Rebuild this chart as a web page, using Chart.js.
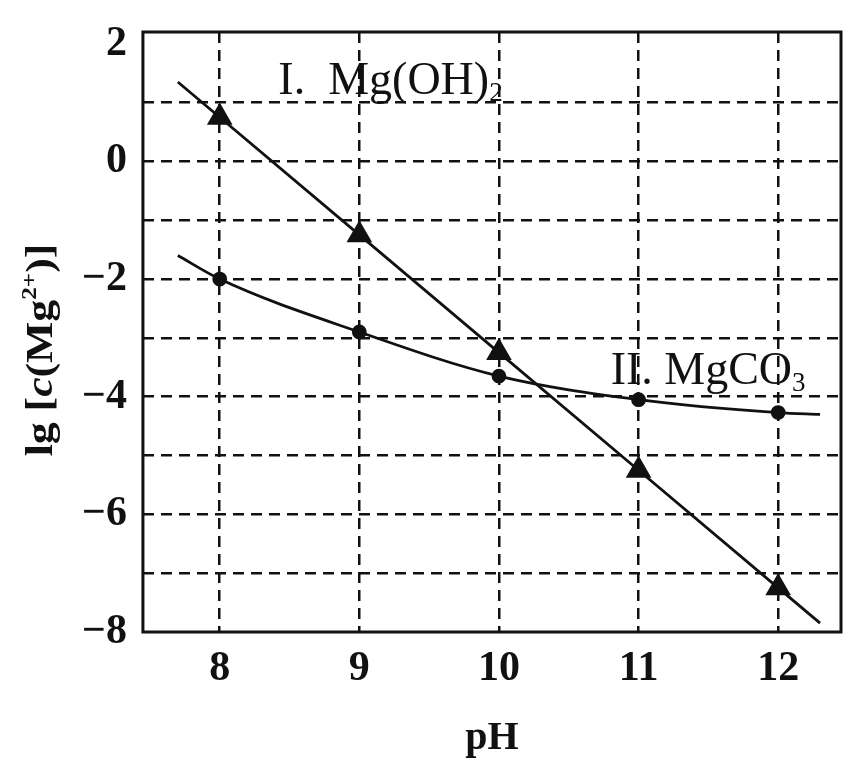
<!DOCTYPE html>
<html>
<head>
<meta charset="utf-8">
<script src="https://cdn.jsdelivr.net/npm/chart.js@4.4.0/dist/chart.umd.min.js"></script>
<style>
  html, body { margin: 0; padding: 0; background: #fff; }
  #wrap { width: 851px; height: 759px; }
</style>
</head>
<body>
<div id="wrap"><canvas id="chart"></canvas></div>
<script>
// values
const phTicks = [8, 9, 10, 11, 12];
const lgTicks = [-8, -7, -6, -5, -4, -3, -2, -1, 0, 1, 2];
const mgOH2Values = [0.75, -1.25, -3.25, -5.25, -7.25];
const mgCO3Values = [-2.0, -2.9, -3.65, -4.05, -4.27];
// where the drawn curves begin and end beyond the marked points
const mgOH2Ends = [[7.7, 1.35], [12.3, -7.85]];
const mgCO3Ends = [[7.7, -1.6], [12.3, -4.3]];

const serif = '"Liberation Serif", "Times New Roman", serif';

function curve(ends, values) {
  const pts = [{x: ends[0][0], y: ends[0][1]}];
  phTicks.forEach((ph, i) => pts.push({x: ph, y: values[i]}));
  pts.push({x: ends[1][0], y: ends[1][1]});
  return pts;
}
// no marker on the curve ends
const markerRadius = (r) => [0, r, r, r, r, r, 0];

// draws a run of text pieces with their own font and vertical offset
function drawPieces(ctx, x, y, pieces) {
  let cx = x;
  for (const p of pieces) {
    ctx.font = p.font;
    ctx.fillText(p.text, cx, y + (p.dy || 0));
    cx += ctx.measureText(p.text).width;
  }
}

const framePlugin = {
  id: 'frame',
  afterDraw(chart) {
    const {ctx, chartArea: a, scales} = chart;
    ctx.save();
    ctx.strokeStyle = '#111';
    ctx.lineWidth = 3;
    ctx.strokeRect(a.left, a.top, a.right - a.left, a.bottom - a.top);
    ctx.fillStyle = '#111';
    ctx.textBaseline = 'alphabetic';
    ctx.textAlign = 'left';
    const big = `46px ${serif}`;
    const sub = `27px ${serif}`;
    drawPieces(ctx, scales.x.getPixelForValue(8.42), scales.y.getPixelForValue(1.15), [
      {text: 'I.  Mg(OH)', font: big},
      {text: '2', font: sub, dy: 7},
    ]);
    drawPieces(ctx, scales.x.getPixelForValue(10.8), scales.y.getPixelForValue(-3.78), [
      {text: 'II. MgCO', font: big},
      {text: '3', font: sub, dy: 7},
    ]);
    // y axis title with italic c and superscript charge
    const pieces = [
      {text: 'lg [', font: `bold 38px ${serif}`},
      {text: 'c', font: `italic bold 38px ${serif}`},
      {text: '(Mg', font: `bold 38px ${serif}`},
      {text: '2+', font: `bold 22px ${serif}`, dy: -16},
      {text: ')]', font: `bold 38px ${serif}`},
    ];
    let w = 0;
    for (const p of pieces) { ctx.font = p.font; w += ctx.measureText(p.text).width; }
    ctx.translate(52, 350);
    ctx.rotate(-Math.PI / 2);
    ctx.scale(1.15, 1);
    drawPieces(ctx, -w / 2, 0, pieces);
    ctx.restore();
  },
};

const dashed = {
  color: '#111',
  lineWidth: 2.5,
  drawTicks: false,
};

new Chart(document.getElementById('chart'), {
  type: 'line',
  data: {
    datasets: [
      {
        label: 'I. Mg(OH)2',
        data: curve(mgOH2Ends, mgOH2Values),
        borderColor: '#111',
        backgroundColor: '#111',
        borderWidth: 2.8,
        pointStyle: 'triangle',
        pointRadius: markerRadius(12),
        tension: 0,
      },
      {
        label: 'II. MgCO3',
        data: curve(mgCO3Ends, mgCO3Values),
        borderColor: '#111',
        backgroundColor: '#111',
        borderWidth: 2.8,
        pointStyle: 'circle',
        pointRadius: markerRadius(6),
        cubicInterpolationMode: 'monotone',
      },
    ],
  },
  options: {
    responsive: true,
    maintainAspectRatio: false,
    animation: false,
    layout: {
      padding: {left: 66, right: 10, top: 32, bottom: 0},
    },
    scales: {
      x: {
        type: 'linear',
        min: 7.45,
        max: 12.45,
        afterBuildTicks: (scale) => { scale.ticks = phTicks.map((v) => ({value: v})); },
        grid: dashed,
        border: {display: false, dash: [11, 7]},
        ticks: {
          color: '#111',
          padding: 16,
          font: {family: serif, size: 42, weight: 'bold', lineHeight: 1},
        },
        title: {
          display: true,
          text: 'pH',
          color: '#111',
          padding: {top: 13, bottom: 0},
          font: {family: serif, size: 40, weight: 'bold', lineHeight: 1},
        },
      },
      y: {
        type: 'linear',
        min: -8,
        max: 2.2,
        afterBuildTicks: (scale) => { scale.ticks = lgTicks.map((v) => ({value: v})); },
        // the "2" label may poke above the frame, as in the original
        afterFit: (scale) => { scale.paddingTop = 0; },
        grid: {
          ...dashed,
          color: (c) => (c.tick && (c.tick.value === 2 || c.tick.value === -8) ? 'rgba(0,0,0,0)' : '#111'),
        },
        border: {display: false, dash: [11, 7]},
        ticks: {
          color: '#111',
          padding: 16,
          font: {family: serif, size: 42, weight: 'bold', lineHeight: 1},
          callback: (v) => (v % 2 === 0 ? (v < 0 ? '\u2212' + Math.abs(v) : String(v)) : ''),
        },
      },
    },
    plugins: {
      legend: {display: false},
      tooltip: {enabled: false},
    },
  },
  plugins: [framePlugin],
});
</script>
</body>
</html>
